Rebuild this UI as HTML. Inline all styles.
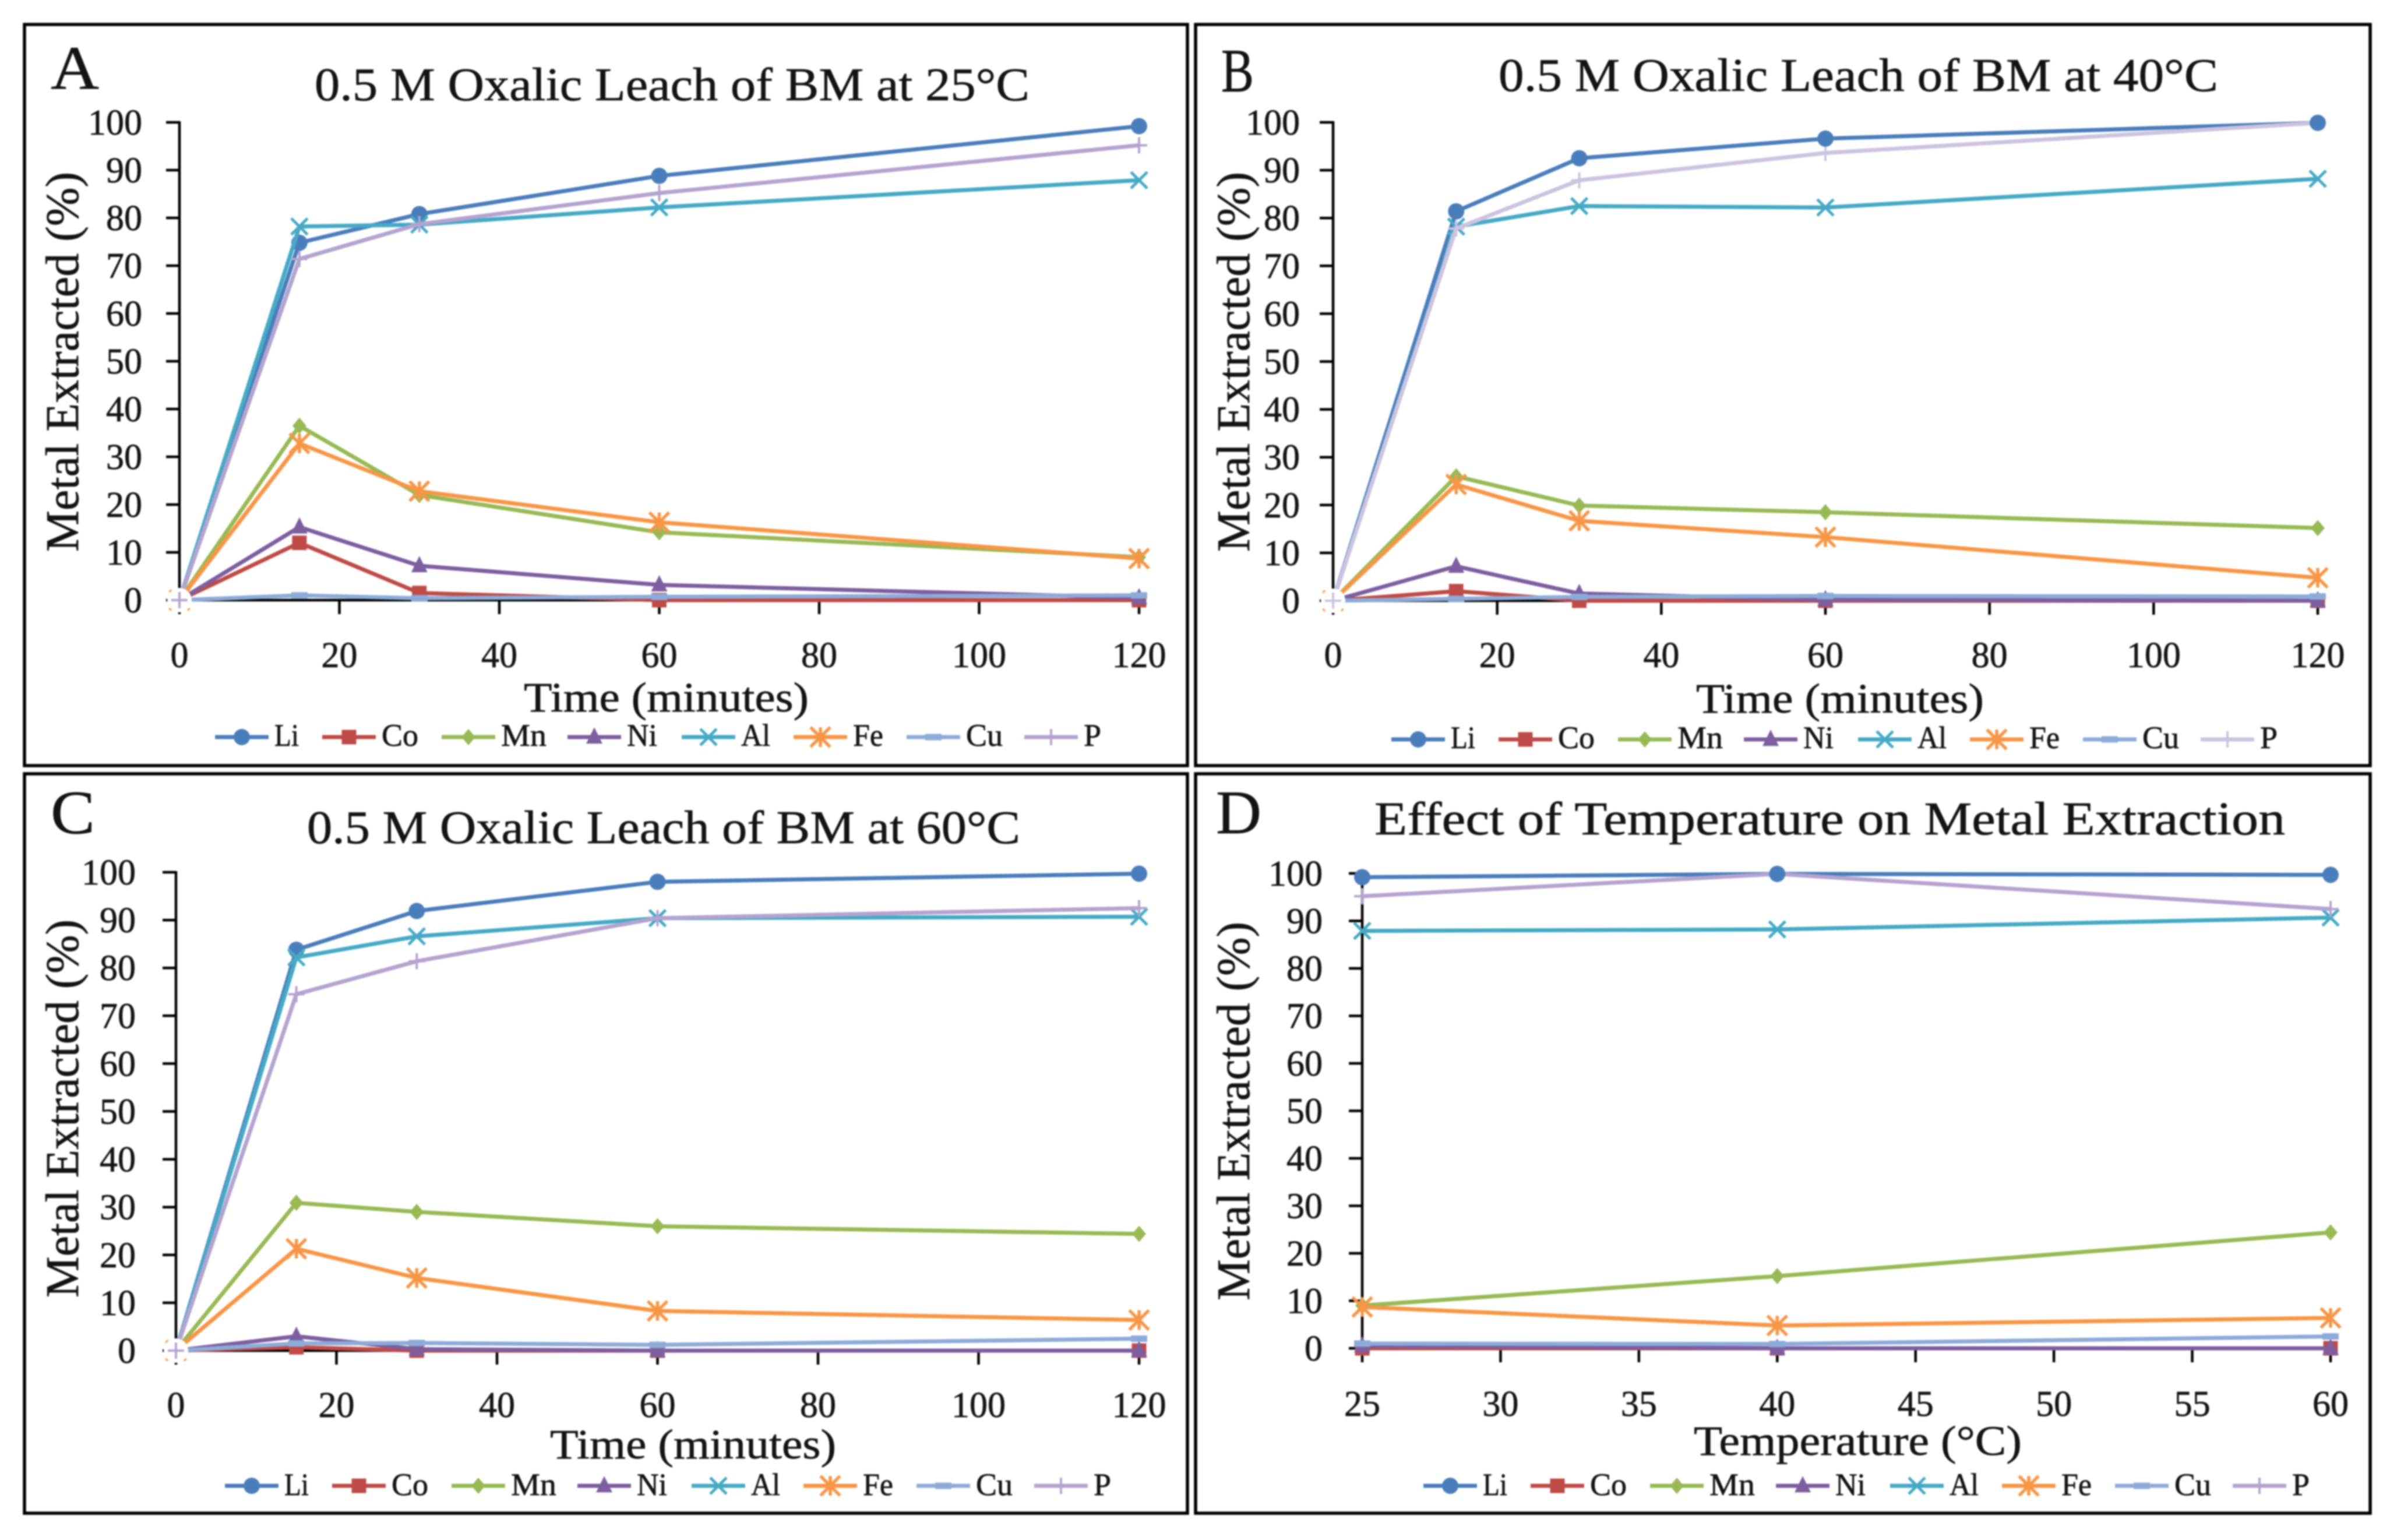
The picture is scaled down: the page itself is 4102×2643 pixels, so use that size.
<!DOCTYPE html>
<html lang="en">
<head>
<meta charset="utf-8">
<title>Oxalic Leach of BM: Metal Extraction</title>
<style>
html,body{margin:0;padding:0;background:#fff;}
#figure{display:block;filter:blur(1.4px);}
text{font-family:"Liberation Serif",serif;fill:#141414;stroke:#141414;stroke-width:0.7px;}
.frame{fill:#fff;stroke:#000;stroke-width:5.5;}
.letter{font-size:106px;}
.title{font-size:80px;}
.xtitle{font-size:72px;}
.ytitle{font-size:80px;}
</style>
</head>
<body>
<svg id="figure" xmlns="http://www.w3.org/2000/svg" width="4102" height="2643" viewBox="0 0 4102 2643">
  <rect width="4102" height="2643" fill="#fff"/>

  <g>
    <rect class="frame" x="42" y="42" width="1996" height="1272"/>
    <text class="letter" x="87" y="152" textLength="83" lengthAdjust="spacingAndGlyphs">A</text>
    <text class="title" x="540" y="172" textLength="1227" lengthAdjust="spacingAndGlyphs">0.5 M Oxalic Leach of BM at 25°C</text>
    <text class="xtitle" x="899" y="1221" textLength="489" lengthAdjust="spacingAndGlyphs">Time (minutes)</text>
    <text class="ytitle" transform="translate(134 947) rotate(-90)" textLength="652" lengthAdjust="spacingAndGlyphs">Metal Extracted (%)</text>
  </g>

  <g>
    <rect class="frame" x="2052" y="42" width="2016" height="1272"/>
    <text class="letter" x="2096" y="157" textLength="56" lengthAdjust="spacingAndGlyphs">B</text>
    <text class="title" x="2572" y="156" textLength="1235" lengthAdjust="spacingAndGlyphs">0.5 M Oxalic Leach of BM at 40°C</text>
    <text class="xtitle" x="2911" y="1223" textLength="494" lengthAdjust="spacingAndGlyphs">Time (minutes)</text>
    <text class="ytitle" transform="translate(2144 947) rotate(-90)" textLength="652" lengthAdjust="spacingAndGlyphs">Metal Extracted (%)</text>
  </g>

  <g>
    <rect class="frame" x="42" y="1328" width="1996" height="1269"/>
    <text class="letter" x="87" y="1430" textLength="76" lengthAdjust="spacingAndGlyphs">C</text>
    <text class="title" x="527" y="1447" textLength="1224" lengthAdjust="spacingAndGlyphs">0.5 M Oxalic Leach of BM at 60°C</text>
    <text class="xtitle" x="944" y="2503" textLength="491" lengthAdjust="spacingAndGlyphs">Time (minutes)</text>
    <text class="ytitle" transform="translate(134 2227) rotate(-90)" textLength="649" lengthAdjust="spacingAndGlyphs">Metal Extracted (%)</text>
  </g>

  <g>
    <rect class="frame" x="2052" y="1328" width="2016" height="1269"/>
    <text class="letter" x="2087" y="1430" textLength="78" lengthAdjust="spacingAndGlyphs">D</text>
    <text class="title" x="2359" y="1432" textLength="1563" lengthAdjust="spacingAndGlyphs">Effect of Temperature on Metal Extraction</text>
    <text class="xtitle" x="2907" y="2497" textLength="563" lengthAdjust="spacingAndGlyphs">Temperature (°C)</text>
    <text class="ytitle" transform="translate(2144 2232) rotate(-90)" textLength="650" lengthAdjust="spacingAndGlyphs">Metal Extracted (%)</text>
  </g>

  <g id="charts"></g>
</svg>

<script>
// ---- Chart data ----
const seriesNames = ['Li', 'Co', 'Mn', 'Ni', 'Al', 'Fe', 'Cu', 'P'];
const timePoints = [0, 15, 30, 60, 120];
const temperaturePoints = [25, 40, 60];
const yTickLabels = [0, 10, 20, 30, 40, 50, 60, 70, 80, 90, 100];
const timeTickLabels = [0, 20, 40, 60, 80, 100, 120];
const temperatureTickLabels = [25, 30, 35, 40, 45, 50, 55, 60];

const aLi = [0, 74.8, 80.8, 88.8, 99.2];
const aCo = [0, 12, 1.5, 0, 0];
const aMn = [0, 36.5, 22, 14.2, 9];
const aNi = [0, 15.3, 7.2, 3.2, 0.5];
const aAl = [0, 78.2, 78.6, 82.2, 87.9];
const aFe = [0, 32.8, 22.8, 16.3, 8.7];
const aCu = [0, 1, 0.4, 0.7, 1];
const aP = [0, 71.4, 78.7, 85.2, 95.2];

const bLi = [0, 81.4, 92.5, 96.6, 99.9];
const bCo = [0, 2, 0, 0, 0];
const bMn = [0, 26, 19.9, 18.5, 15.2];
const bNi = [0, 7.2, 1.5, 0.2, 0];
const bAl = [0, 78.2, 82.5, 82.2, 88.2];
const bFe = [0, 24.3, 16.7, 13.3, 4.8];
const bCu = [0, 0.4, 0.8, 1, 0.9];
const bP = [0, 77.8, 87.9, 93.6, 99.9];

const cLi = [0, 83.8, 91.9, 98, 99.7];
const cCo = [0, 0.7, 0, 0, 0];
const cMn = [0, 30.9, 29, 26, 24.4];
const cNi = [0, 3, 0.3, 0, 0];
const cAl = [0, 82.2, 86.6, 90.4, 90.7];
const cFe = [0, 21.3, 15.2, 8.3, 6.4];
const cCu = [0, 1.5, 1.6, 1.2, 2.5];
const cP = [0, 74.5, 81.4, 90.4, 92.5];

const dLi = [99.2, 99.9, 99.7];
const dCo = [0, 0, 0];
const dMn = [9, 15.2, 24.4];
const dNi = [0.5, 0, 0];
const dAl = [87.9, 88.2, 90.7];
const dFe = [8.7, 4.8, 6.4];
const dCu = [1, 0.9, 2.5];
const dP = [95.2, 99.9, 92.5];

// ---- Layout and style (not data) ----
const panels = [
  { id: 'a', box: { left: 308, right: 1955, top: 210, bottom: 1030 }, domain: [0, 120], ticks: timeTickLabels, points: timePoints,
    values: [aLi, aCo, aMn, aNi, aAl, aFe, aCu, aP], yLabelRight: 244, xLabelBase: 1145, legend: { x: 369, y: 1265, base: 1280 }, halo: true, pColor: '#b5a3cf', liOnTop: false },
  { id: 'b', box: { left: 2288, right: 3978, top: 210, bottom: 1031 }, domain: [0, 120], ticks: timeTickLabels, points: timePoints,
    values: [bLi, bCo, bMn, bNi, bAl, bFe, bCu, bP], yLabelRight: 2231, xLabelBase: 1145, legend: { x: 2388, y: 1269, base: 1284 }, halo: true, pColor: '#cdc3df', liOnTop: true },
  { id: 'c', box: { left: 302, right: 1955, top: 1497, bottom: 2318 }, domain: [0, 120], ticks: timeTickLabels, points: timePoints,
    values: [cLi, cCo, cMn, cNi, cAl, cFe, cCu, cP], yLabelRight: 233, xLabelBase: 2432, legend: { x: 386, y: 2550, base: 2566 }, halo: true, pColor: '#b5a3cf', liOnTop: false },
  { id: 'd', box: { left: 2338, right: 4000, top: 1499, bottom: 2314 }, domain: [25, 60], ticks: temperatureTickLabels, points: temperaturePoints,
    values: [dLi, dCo, dMn, dNi, dAl, dFe, dCu, dP], yLabelRight: 2270, xLabelBase: 2430, legend: { x: 2443, y: 2550, base: 2566 }, halo: false, pColor: '#b5a3cf', liOnTop: true }
];
const seriesStyle = {
  Li: { color: '#4a7ebb', shape: 'circle', dx: 0, w: 42 },
  Co: { color: '#be4b48', shape: 'square', dx: 184, w: 63 },
  Mn: { color: '#98b954', shape: 'diamond', dx: 389, w: 78 },
  Ni: { color: '#7d5fa0', shape: 'triangle', dx: 605, w: 52 },
  Al: { color: '#46aac5', shape: 'cross', dx: 801, w: 50 },
  Fe: { color: '#f79646', shape: 'star', dx: 993, w: 52 },
  Cu: { color: '#8dabd8', shape: 'dash', dx: 1187, w: 63 },
  P: { color: '#b5a3cf', shape: 'plus', dx: 1389, w: 30 }
};
const NS = 'http://www.w3.org/2000/svg';
const root = document.getElementById('charts');

function make(tag, attrs, parent) {
  const node = document.createElementNS(NS, tag);
  for (const k in attrs) node.setAttribute(k, attrs[k]);
  parent.appendChild(node);
  return node;
}
function xScale(panel, v) {
  const b = panel.box, d = panel.domain;
  return b.left + (v - d[0]) / (d[1] - d[0]) * (b.right - b.left);
}
function yScale(panel, v) {
  const b = panel.box;
  return b.bottom - v / 100 * (b.bottom - b.top);
}

function drawAxes(panel, g) {
  const b = panel.box;
  const axisStroke = { stroke: '#000', 'stroke-width': 4.5 };
  const yAxis = make('line', { x1: b.left, x2: b.left, y1: b.top - 2, y2: b.bottom + 2, ...axisStroke }, g);
  
  
  const xAxis = make('line', { x1: b.left - 2, x2: b.right + 2, y1: b.bottom, y2: b.bottom, ...axisStroke }, g);
  
  
  yTickLabels.forEach(function (v) {
    const y = yScale(panel, v);
    const tick = make('line', { x1: b.left - 23, x2: b.left, y1: y, y2: y, ...axisStroke }, g);
    
    
    const label = make('text', { x: panel.yLabelRight, y: y + 21, 'text-anchor': 'end', 'font-size': 62 }, g);
    label.textContent = v;
    
    
  });
  panel.ticks.forEach(function (v) {
    const x = xScale(panel, v);
    const tick = make('line', { x1: x, x2: x, y1: b.bottom, y2: b.bottom + 24, ...axisStroke }, g);
    
    
    const label = make('text', { x: x, y: panel.xLabelBase, 'text-anchor': 'middle', 'font-size': 62 }, g);
    label.textContent = v;
    
    
  });
}

function drawMarker(shape, x, y, color, parent, k) {
  const r = 14 * k;
  let m;
  if (shape === 'circle') {
    m = make('circle', { cx: x, cy: y, r: r, fill: color }, parent);
  } else if (shape === 'square') {
    m = make('rect', { x: x - 12.5 * k, y: y - 12.5 * k, width: 25 * k, height: 25 * k, fill: color }, parent);
  } else if (shape === 'diamond') {
    m = make('path', { d: 'M' + x + ' ' + (y - r) + 'L' + (x + r * 0.85) + ' ' + y + 'L' + x + ' ' + (y + r) + 'L' + (x - r * 0.85) + ' ' + y + 'Z', fill: color }, parent);
  } else if (shape === 'triangle') {
    m = make('path', { d: 'M' + x + ' ' + (y - r * 1.2) + 'L' + (x + r) + ' ' + (y + r * 0.8) + 'L' + (x - r) + ' ' + (y + r * 0.8) + 'Z', fill: color }, parent);
  } else if (shape === 'cross') {
    const c = r * 1.0;
    m = make('path', { d: 'M' + (x - c) + ' ' + (y - c) + 'L' + (x + c) + ' ' + (y + c) + 'M' + (x + c) + ' ' + (y - c) + 'L' + (x - c) + ' ' + (y + c), stroke: color, 'stroke-width': 5, fill: 'none' }, parent);
  } else if (shape === 'star') {
    const s = r * 1.2;
    m = make('path', { d: 'M' + (x - s) + ' ' + (y - s) + 'L' + (x + s) + ' ' + (y + s) + 'M' + (x + s) + ' ' + (y - s) + 'L' + (x - s) + ' ' + (y + s) + 'M' + x + ' ' + (y - s) + 'L' + x + ' ' + (y + s), stroke: color, 'stroke-width': 5.5, fill: 'none' }, parent);
  } else if (shape === 'dash') {
    m = make('rect', { x: x - r, y: y - 5.5, width: r * 2, height: 11, fill: color }, parent);
  } else {
    m = make('path', { d: 'M' + (x - r) + ' ' + y + 'L' + (x + r) + ' ' + y + 'M' + x + ' ' + (y - r) + 'L' + x + ' ' + (y + r), stroke: color, 'stroke-width': 4, fill: 'none' }, parent);
  }
  return m;
}

function drawSeries(panel, g) {
  let liGroup = null;
  let pGroup = null;
  seriesNames.forEach(function (name, i) {
    const style = seriesStyle[name];
    const color = name === 'P' ? panel.pColor : style.color;
    const values = panel.values[i];
    const group = make('g', {}, g);
    
    
    const pts = values.map(function (v, j) {
      return xScale(panel, panel.points[j]) + ',' + yScale(panel, v);
    }).join(' ');
    const line = make('polyline', { points: pts, fill: 'none', stroke: color, 'stroke-width': 7, 'stroke-linejoin': 'round' }, group);
    
    
    let markParent = group;
    if (name === 'Li' && panel.liOnTop) {
      liGroup = document.createElementNS(NS, 'g');
      
      
      markParent = liGroup;
    }
    if (name === 'P') pGroup = group;
    values.forEach(function (v, j) {
      if (name === 'P' && j === 0 && panel.halo) return;
      const mark = drawMarker(style.shape, xScale(panel, panel.points[j]), yScale(panel, v), color, markParent, 1);
      
      
    });
  });
  if (liGroup) g.appendChild(liGroup);
  if (panel.halo) {
    // White halo hides every series' origin marker; only the P marker shows there.
    const haloX = xScale(panel, panel.points[0]);
    const pFirst = panel.values[seriesNames.indexOf('P')][0];
    const halo = make('circle', { cx: haloX, cy: yScale(panel, 0), r: 21, fill: '#fff' }, g);
    
    
    const pMark = drawMarker('plus', haloX, yScale(panel, pFirst), panel.pColor, g, 1);
    
    
  }
}

function drawLegend(panel, g) {
  const lg = panel.legend;
  seriesNames.forEach(function (name) {
    const style = seriesStyle[name];
    const color = name === 'P' ? panel.pColor : style.color;
    const x = lg.x + style.dx;
    const entry = make('g', {}, g);
    
    
    const swatch = make('line', { x1: x, x2: x + 92, y1: lg.y, y2: lg.y, stroke: color, 'stroke-width': 7 }, entry);
    
    
    const mark = drawMarker(style.shape, x + 46, lg.y, color, entry, 1);
    
    
    const label = make('text', { x: x + 102, y: lg.base, 'font-size': 54, textLength: style.w, lengthAdjust: 'spacingAndGlyphs' }, entry);
    label.textContent = name;
    
    
  });
}

panels.forEach(function (panel) {
  const g = make('g', {}, root);
  
  
  drawAxes(panel, g);
  drawSeries(panel, g);
  const lg = make('g', {}, g);
  
  
  drawLegend(panel, lg);
});
</script>
</body>
</html>
